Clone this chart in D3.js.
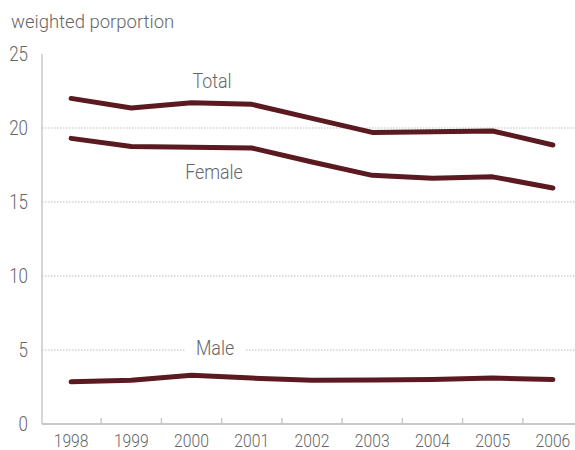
<!DOCTYPE html>
<html>
<head>
<meta charset="utf-8">
<script src="https://cdn.jsdelivr.net/npm/d3@7"></script>
<style>
  body { margin: 0; background: #fff; }
  text { font-family: Roboto, "Noto Sans", sans-serif; font-weight: 300; fill: #666; }
</style>
</head>
<body>
<div id="chart"></div>
<script>
var years = ["1998", "1999", "2000", "2001", "2002", "2003", "2004", "2005", "2006"];
var total = [22.0, 21.35, 21.7, 21.6, 20.65, 19.7, 19.75, 19.8, 18.85];
var female = [19.3, 18.75, 18.7, 18.65, 17.7, 16.8, 16.6, 16.7, 15.95];
var male = [2.85, 2.95, 3.3, 3.1, 2.95, 2.98, 3.0, 3.1, 3.0];
var yTicks = [0, 5, 10, 15, 20, 25];
var seriesLabels = ["Total", "Female", "Male"];

var width = 575, height = 450, squeeze = 0.85;
var svg = d3.select("#chart").append("svg")
  .attr("width", width)
  .attr("height", height);

var x = d3.scaleBand().domain(years).range([41, 583]).padding(0);
var y = d3.scaleLinear().domain([0, 25]).range([424, 54]);

// condensed-looking text: squeeze horizontally around the anchor point
function label(parent, px, py, str, size, anchor) {
  return parent.append("text")
    .attr("transform", "translate(" + px + "," + py + ") scale(" + squeeze + ",1)")
    .attr("text-anchor", anchor)
    .style("font-size", size + "px")
    .text(str);
}

// grid
svg.append("g")
  .selectAll("line")
  .data(yTicks.filter(function (d) { return d > 0 && d < 25; }))
  .enter().append("line")
  .attr("x1", 42).attr("x2", width)
  .attr("y1", function (d) { return y(d); })
  .attr("y2", function (d) { return y(d); })
  .attr("stroke", "#bbb")
  .attr("stroke-width", 1)
  .attr("stroke-dasharray", "1.5,1.5");

// axes
svg.append("line")
  .attr("x1", 42).attr("x2", 42)
  .attr("y1", y(25)).attr("y2", y(0))
  .attr("stroke", "#c8c8c8").attr("stroke-width", 1.5);
svg.append("line")
  .attr("x1", 42).attr("x2", width)
  .attr("y1", y(0)).attr("y2", y(0))
  .attr("stroke", "#c8c8c8").attr("stroke-width", 2);

svg.append("g")
  .selectAll("line")
  .data(years.slice(1))
  .enter().append("line")
  .attr("x1", function (d) { return x(d); })
  .attr("x2", function (d) { return x(d); })
  .attr("y1", y(0) - 6).attr("y2", y(0))
  .attr("stroke", "#c8c8c8").attr("stroke-width", 1.5);

var yAxis = svg.append("g");
yTicks.forEach(function (d) {
  label(yAxis, 28, y(d) + 7, d, 20, "end");
});

var xAxis = svg.append("g");
years.forEach(function (d) {
  label(xAxis, x(d) + x.bandwidth() / 2, 447, d, 18.5, "middle");
});

svg.append("text")
  .attr("x", 11).attr("y", 28)
  .style("font-size", "18.5px")
  .text("weighted porportion");

// lines
var line = d3.line()
  .x(function (d, i) { return x(years[i]) + x.bandwidth() / 2; })
  .y(function (d) { return y(d); });

[total, female, male].forEach(function (s) {
  svg.append("path")
    .datum(s)
    .attr("d", line)
    .attr("fill", "none")
    .attr("stroke", "#5b1a20")
    .attr("stroke-width", 5)
    .attr("stroke-linecap", "round")
    .attr("stroke-linejoin", "round");
});

// series labels (baseline positions in data units)
var labelPos = [[212, 22.7], [214, 16.55], [215, 4.66]];
seriesLabels.forEach(function (t, i) {
  var g = svg.append("g");
  var tx = label(g, labelPos[i][0], y(labelPos[i][1]), t, 21, "middle");
  var bb = tx.node().getBBox();
  var w = bb.width * squeeze;
  g.insert("rect", "text")
    .attr("x", labelPos[i][0] - w / 2 - 11)
    .attr("y", y(labelPos[i][1]) - 18)
    .attr("width", w + 22).attr("height", 22)
    .attr("fill", "#fff");
});
</script>
</body>
</html>
